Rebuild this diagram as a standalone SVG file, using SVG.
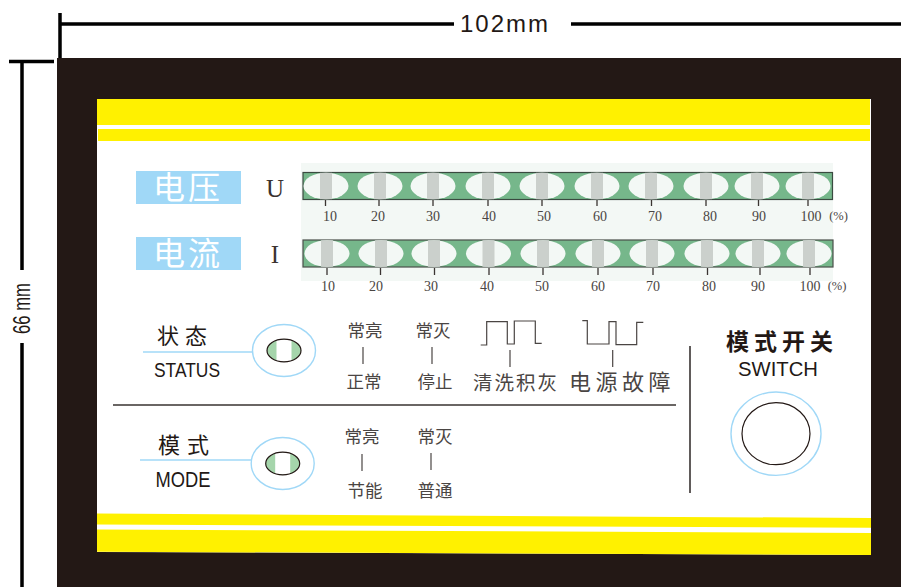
<svg xmlns="http://www.w3.org/2000/svg" xmlns:xlink="http://www.w3.org/1999/xlink" width="901" height="587" viewBox="0 0 901 587">
<style>
.dim{stroke:#000;stroke-width:3.5;fill:none}
.ln{stroke:#4a4543;stroke-width:1.2;fill:none}
.num{font:14px "Liberation Serif","Noto Sans CJK SC",serif;fill:#4a4543;text-anchor:middle}
.cjk{font-family:"Noto Sans CJK SC",sans-serif;fill:#4a4543;text-anchor:middle}
.tick{stroke:#3a3432;stroke-width:1.3}
.blue{fill:none;stroke:#a0d8f7;stroke-width:1.4}
.yl{fill:#fff100}
.dk{fill:#231815}
.hd{font-family:"Noto Sans CJK SC",sans-serif;font-size:32px;fill:#fff;text-anchor:middle;letter-spacing:3px}
.sv{font-family:"Liberation Serif",serif;font-size:25px;fill:#3a3230;text-anchor:middle}
.en{font-family:"Liberation Sans",sans-serif;fill:#231815;text-anchor:middle}
</style>
<defs>
<g id="cell"><ellipse cx="0" cy="0" rx="22.5" ry="13.3" fill="#f3f8f5"/><rect x="-6" y="-13.2" width="12" height="26.4" fill="#cbd0cc"/></g>
<g id="led"><ellipse cx="0" cy="0" rx="31.5" ry="26" class="blue" fill="#fff"/><ellipse cx="0" cy="0" rx="17" ry="11.3" fill="#a5d5ab"/><rect x="-7.5" y="-11" width="15" height="22" fill="#fff"/><ellipse cx="0" cy="0" rx="17" ry="11.3" fill="none" stroke="#231815" stroke-width="1.2"/></g>
</defs>
<g id="housing">
<path class="dk" d="M57 58H901V587H57Z"/>
<path fill="#fff" d="M97 99H871V555L97 552Z"/>
<rect class="yl" x="97" y="99" width="773" height="26"/>
<rect class="yl" x="98" y="129" width="772" height="12"/>
<path class="yl" d="M97 513.500L871 518V527.700L97 524.500Z"/>
<path class="yl" d="M97 529.500L871 533V555L97 551.700Z"/>
</g>
<g id="dimensions">
<path class="dim" d="M60 13V58M60 24H454M571 24H901M9 61.500H54M22 62V270M22 343V587"/>
<text class="en" x="505" y="32" font-size="24" letter-spacing="2">102mm</text>
<text class="en" transform="translate(30 308.500) rotate(-90)" font-size="24" textLength="51" lengthAdjust="spacingAndGlyphs">66 mm</text>
</g>
<g id="meter-panel"><rect x="301" y="163" width="532" height="118" fill="#f3f8f5"/></g>
<g id="voltage-label"><rect x="136" y="171" width="105" height="33" fill="#a0d8f7"/><text class="hd" x="188" y="199">电压</text><text class="sv" x="275" y="197">U</text></g>
<g id="voltage-bar">
<rect x="303" y="172.500" width="529.500" height="27" fill="#76b78b" stroke="#3a4a40" stroke-width="1.2"/>
<use xlink:href="#cell" x="326" y="186"/><use xlink:href="#cell" x="380" y="186"/><use xlink:href="#cell" x="433" y="186"/><use xlink:href="#cell" x="488" y="186"/><use xlink:href="#cell" x="542" y="186"/><use xlink:href="#cell" x="597" y="186"/><use xlink:href="#cell" x="651" y="186"/><use xlink:href="#cell" x="706" y="186"/><use xlink:href="#cell" x="757" y="186"/><use xlink:href="#cell" x="808" y="186"/>
<path class="tick" d="M325.500 200v6M379 200v6M433 200v6M488 200v6M542 200v6M597 200v6M651.500 200v6M706 200v6M758.500 200v6M808 200v6"/>
<text class="num" x="330" y="221">10</text><text class="num" x="378" y="221">20</text><text class="num" x="433" y="221">30</text><text class="num" x="489" y="221">40</text><text class="num" x="544" y="221">50</text><text class="num" x="600" y="221">60</text><text class="num" x="655" y="221">70</text><text class="num" x="710" y="221">80</text><text class="num" x="759" y="221">90</text><text class="num" x="811" y="221">100</text><text class="num" x="838.500" y="220" style="font-size:12.500px">(%)</text>
</g>
<g id="current-label"><rect x="136" y="237" width="105" height="33" fill="#a0d8f7"/><text class="hd" x="188" y="265">电流</text><text class="sv" x="275" y="263">I</text></g>
<g id="current-bar">
<rect x="303" y="240" width="530" height="27" fill="#76b78b" stroke="#4a4f4a" stroke-width="1.2"/>
<use xlink:href="#cell" x="327" y="253.500"/><use xlink:href="#cell" x="381" y="253.500"/><use xlink:href="#cell" x="434" y="253.500"/><use xlink:href="#cell" x="488.500" y="253.500"/><use xlink:href="#cell" x="543" y="253.500"/><use xlink:href="#cell" x="598" y="253.500"/><use xlink:href="#cell" x="652" y="253.500"/><use xlink:href="#cell" x="707" y="253.500"/><use xlink:href="#cell" x="758" y="253.500"/><use xlink:href="#cell" x="809" y="253.500"/>
<path class="tick" d="M327 268v7M380.500 268v7M434.500 268v7M489 268v7M543 268v7M598 268v7M653 268v7M707.500 268v7M760 268v7M810 268v7"/>
<text class="num" x="328" y="291">10</text><text class="num" x="376" y="291">20</text><text class="num" x="431" y="291">30</text><text class="num" x="487" y="291">40</text><text class="num" x="542" y="291">50</text><text class="num" x="598" y="291">60</text><text class="num" x="653" y="291">70</text><text class="num" x="709" y="291">80</text><text class="num" x="758" y="291">90</text><text class="num" x="810" y="291">100</text><text class="num" x="837" y="290" style="font-size:12.500px">(%)</text>
</g>
<g id="status">
<path class="blue" d="M143 352H253"/>
<text class="cjk" x="185" y="344" font-size="22" letter-spacing="6" style="fill:#231815">状态</text>
<text class="en" x="187" y="377" font-size="21" textLength="66" lengthAdjust="spacingAndGlyphs">STATUS</text>
<use xlink:href="#led" x="284" y="350.500"/>
</g>
<g id="status-legend">
<text class="cjk" x="365" y="337" font-size="17.500">常亮</text><path class="ln" d="M363 347V364"/><text class="cjk" x="364" y="388" font-size="17.500">正常</text>
<text class="cjk" x="433" y="337" font-size="17.500">常灭</text><path class="ln" d="M432 347V364"/><text class="cjk" x="435" y="388" font-size="17.500">停止</text>
<path class="ln" stroke-width="1.5" d="M480.700 345H486.700V321.700H507.300V344H514.300V321H535.300V343.300H541.700M510 350V367"/>
<text class="cjk" x="516" y="390" font-size="19.500" letter-spacing="2">清洗积灰</text>
<path class="ln" d="M582.300 320.700H587.300V344H609V321.700H616V344.700H636.700V322.300H643.300M612.700 350V367"/>
<text class="cjk" x="622" y="390" font-size="22" letter-spacing="4.500">电源故障</text>
</g>
<g id="dividers"><path d="M113 405H676M690 346V493" stroke="#3a3432" stroke-width="1.6" fill="none"/></g>
<g id="mode">
<path class="blue" d="M140 460H252"/>
<text class="cjk" x="187" y="453" font-size="22" letter-spacing="7" style="fill:#231815">模式</text>
<text class="en" x="183" y="487" font-size="22" textLength="55" lengthAdjust="spacingAndGlyphs">MODE</text>
<use xlink:href="#led" x="282.700" y="463.500"/>
</g>
<g id="mode-legend">
<text class="cjk" x="362" y="443" font-size="17.500">常亮</text><path class="ln" d="M362 454V471"/><text class="cjk" x="365" y="497" font-size="17.500">节能</text>
<text class="cjk" x="435" y="443" font-size="17.500">常灭</text><path class="ln" d="M431 453V470"/><text class="cjk" x="435" y="497" font-size="17.500">普通</text>
</g>
<g id="switch">
<text x="782" y="350" font-family="'Noto Sans CJK SC',sans-serif" font-weight="700" font-size="23" letter-spacing="5" fill="#231815" text-anchor="middle">模式开关</text>
<text class="en" x="778" y="376" font-size="20" textLength="80" lengthAdjust="spacingAndGlyphs">SWITCH</text>
<ellipse cx="776" cy="433.700" rx="45" ry="41.700" class="blue"/>
<ellipse cx="776" cy="433.700" rx="34" ry="31" fill="none" stroke="#231815" stroke-width="1.2"/>
</g>
</svg>
